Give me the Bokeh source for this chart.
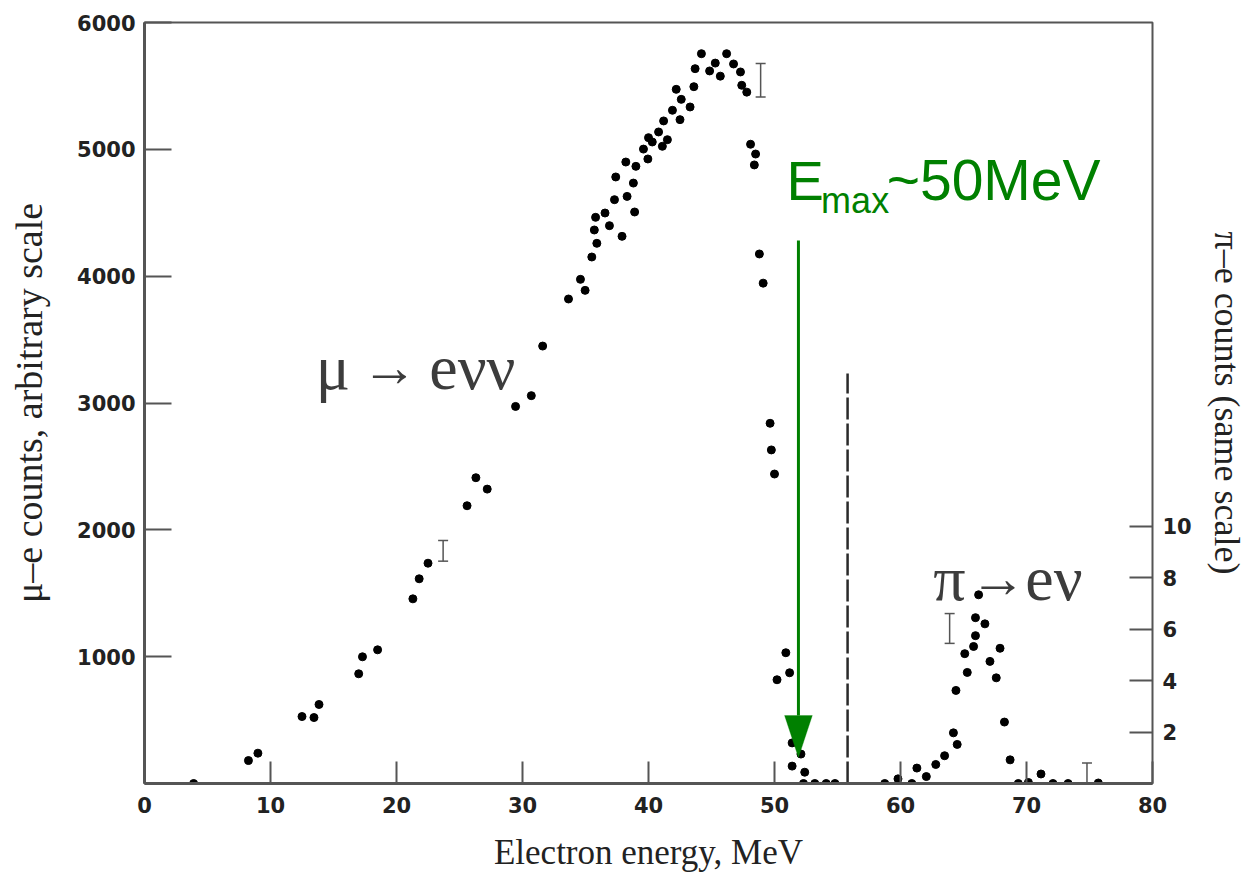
from bokeh.plotting import figure
from bokeh.models import (Range1d, LinearAxis, FixedTicker, Label, Arrow,
                          Whisker, ColumnDataSource, TeeHead, PolyAnnotation)
from bokeh.embed import file_html
from bokeh.resources import INLINE

# ---------------- data ----------------
mu_energy = [3.9, 8.25, 9.0, 12.5, 13.45, 13.85, 17.0, 17.3, 18.5, 21.3, 21.8, 22.5,
             25.6, 26.3, 27.2, 29.45, 30.7, 31.6,
             33.65, 34.6, 34.97, 35.5, 35.9, 35.7, 35.8, 36.55, 36.9, 37.9, 37.3, 38.3,
             38.9, 38.8, 37.4, 38.2, 39.0, 39.95, 39.6, 40.0, 40.3, 40.8, 41.1, 41.5,
             41.2, 41.9, 42.5, 43.3, 42.6, 42.2, 43.6, 43.7, 44.2, 44.85, 45.3, 45.7,
             46.2, 46.75, 47.3, 47.4, 47.8,
             48.1, 48.5, 48.4, 48.8, 49.1, 49.65, 49.75, 50.0, 50.9, 51.2, 50.2,
             51.4, 52.1, 51.4, 52.4, 52.3, 53.2, 54.1, 54.8]
mu_counts = [0, 181, 239, 528, 520, 623, 865, 999, 1054, 1456, 1614, 1737,
             2190, 2411, 2321, 2973, 3058, 3449,
             3820, 3975, 3888, 4151, 4259, 4364, 4464, 4498, 4398, 4314, 4603, 4629,
             4506, 4734, 4782, 4900, 4866, 4924, 5002, 5092, 5058, 5137, 5024, 5076,
             5224, 5308, 5234, 5334, 5394, 5473, 5494, 5636, 5754, 5618, 5680, 5577,
             5754, 5673, 5610, 5505, 5451,
             5040, 4963, 4877, 4175, 3945, 2840, 2630, 2440, 1031, 873, 818,
             320, 232, 137, 89, 0, 0, 0, 0]

pi_energy = [58.75, 59.8, 60.9, 61.3, 62.05, 62.8, 63.5, 64.2, 64.5, 64.4, 65.3, 65.1,
             65.8, 65.95, 65.95, 66.7, 66.2, 67.1, 67.9, 67.6, 68.25, 68.7, 69.35,
             70.15, 71.15, 72.1, 73.3, 75.7]
pi_counts = [0, 0.18, 0, 0.6, 0.27, 0.74, 1.08, 1.97, 1.52, 3.62, 4.32, 5.05,
             5.33, 5.75, 6.45, 6.21, 7.34, 4.75, 5.26, 4.11, 2.39, 0.92, 0,
             0.04, 0.37, 0, 0, 0.02]

mu_err_energy = [23.7, 48.9]
mu_err_low = [1753, 5413]
mu_err_high = [1916, 5676]
pi_err_energy = [63.9, 74.8]
pi_err_low = [5.45, -0.27]
pi_err_high = [6.61, 0.80]

x_ticks = [0, 10, 20, 30, 40, 50, 60, 70, 80]
y_ticks = [1000, 2000, 3000, 4000, 5000, 6000]
pi_ticks = [2, 4, 6, 8, 10]

cutoff_energy = 55.8
cutoff_top = 3233
emax_energy = 51.9
arrow_top = 4282
arrow_head_base = 536
arrow_tip = 205
arrow_half_width = 1.1

GREEN = "#008000"
TEXT = "#3c3c3c"
AX = "#555555"
TICKFONT = "DejaVu Sans"
SERIF = "Liberation Serif"

p = figure(width=1249, height=877, x_range=Range1d(0, 80), y_range=Range1d(0, 6000),
           output_backend="svg", toolbar_location=None,
           min_border_left=144, min_border_right=94, min_border_top=22, min_border_bottom=94)
p.extra_y_ranges = {"pi": Range1d(0, 29.6)}
p.xgrid.visible = False
p.ygrid.visible = False
p.outline_line_color = AX
p.outline_line_width = 2


def style_axis(ax, tick_in, label_size):
    ax.major_tick_in = tick_in
    ax.major_tick_out = 0
    ax.minor_tick_line_color = None
    ax.axis_line_color = AX
    ax.axis_line_width = 3
    ax.major_tick_line_color = AX
    ax.major_tick_line_width = 2
    ax.major_label_text_font = TICKFONT
    ax.major_label_text_font_style = "bold"
    ax.major_label_text_font_size = "21px"
    ax.major_label_text_color = "#222222"
    ax.axis_label_text_font = SERIF
    ax.axis_label_text_font_style = "normal"
    ax.axis_label_text_font_size = label_size
    ax.axis_label_text_color = "#222222"


xa = p.xaxis[0]
style_axis(xa, 22, "35px")
xa.ticker = FixedTicker(ticks=x_ticks)
xa.major_label_standoff = 13
xa.axis_label = "Electron energy, MeV"
xa.axis_label_standoff = 17

ya = p.yaxis[0]
style_axis(ya, 27, "38px")
ya.ticker = FixedTicker(ticks=y_ticks)
ya.major_label_standoff = 9
ya.axis_label = "μ–e counts, arbitrary scale"
ya.axis_label_standoff = 24

ra = LinearAxis(y_range_name="pi", ticker=FixedTicker(ticks=pi_ticks))
style_axis(ra, 23, "36px")
ra.axis_line_color = None
ra.major_label_standoff = 10
ra.axis_label = "π–e counts (same scale)"
ra.axis_label_standoff = 12
p.add_layout(ra, "right")

# data points
p.scatter(mu_energy, mu_counts, size=8, color="black")
p.scatter(pi_energy, pi_counts, size=8, color="black", y_range_name="pi")

# error bars
for xs, lo, hi, rng in [(mu_err_energy, mu_err_low, mu_err_high, "default"),
                        (pi_err_energy, pi_err_low, pi_err_high, "pi")]:
    src = ColumnDataSource(dict(x=xs, lo=lo, hi=hi))
    w = Whisker(base="x", lower="lo", upper="hi", source=src, dimension="height",
                line_color="#555555", line_width=1.5,
                upper_head=TeeHead(size=10, line_color="#555555", line_width=1.5),
                lower_head=TeeHead(size=10, line_color="#555555", line_width=1.5))
    if rng != "default":
        w.y_range_name = rng
    p.add_layout(w)

# dashed cutoff line
p.segment(x0=[cutoff_energy], y0=[0], x1=[cutoff_energy], y1=[cutoff_top],
          line_color="#2a2a2a", line_width=2.5, line_dash="22 4")

# green arrow for E_max
p.add_layout(Arrow(end=None, x_start=emax_energy, y_start=arrow_top,
                   x_end=emax_energy, y_end=arrow_head_base,
                   line_color=GREEN, line_width=3))
p.add_layout(PolyAnnotation(xs=[emax_energy - arrow_half_width, emax_energy + arrow_half_width, emax_energy],
                            ys=[arrow_head_base, arrow_head_base, arrow_tip],
                            fill_color=GREEN, fill_alpha=1.0, line_color=GREEN, line_width=1))

# texts
def lab(x, y, t, size, font=SERIF, color=TEXT):
    p.add_layout(Label(x=x, y=y, text=t, text_font=font, text_font_size=size,
                       text_color=color, text_baseline="alphabetic", text_align="left"))

lab(13.6, 3281, "μ", "64px")
lab(17.2, 3281, "→", "56px")
lab(22.6, 3281, "eνν", "64px")
lab(62.6, 1617, "π", "64px")
lab(65.5, 1617, "→", "56px")
lab(69.9, 1617, "eν", "64px")
lab(50.95, 4755, "E", "56px", font="Liberation Sans", color=GREEN)
lab(53.7, 4600, "max", "36px", font="Liberation Sans", color=GREEN)
lab(58.9, 4755, "~50MeV", "57px", font="Liberation Sans", color=GREEN)

open("out.html", "w").write(file_html(p, INLINE))
